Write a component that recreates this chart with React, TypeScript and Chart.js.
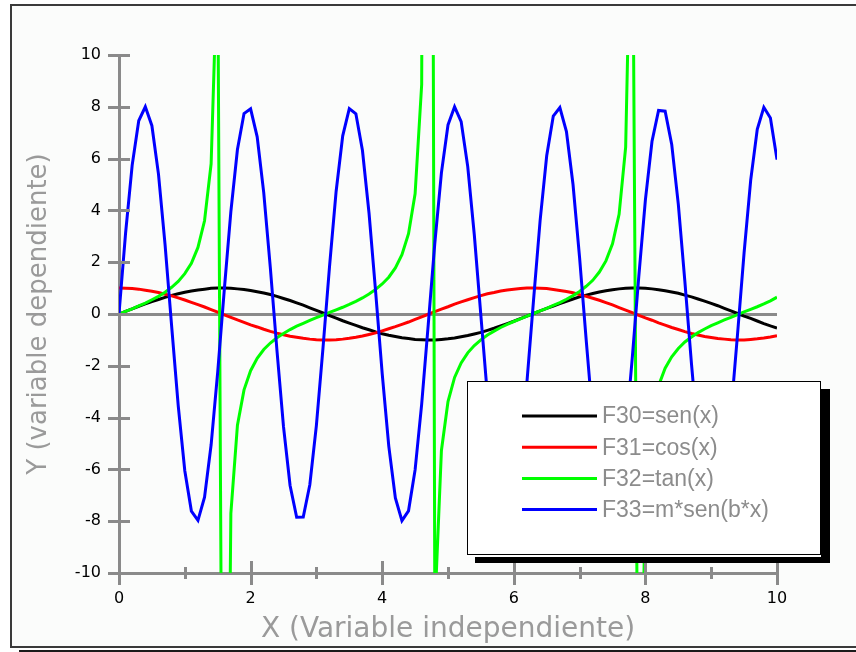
import React, { useEffect, useRef } from "react";
import { Chart, registerables } from "chart.js";

Chart.register(...registerables);

// ---------- data ----------
const xValues = [
  0, 0.1, 0.2, 0.3, 0.4, 0.5, 0.6, 0.7, 0.8, 0.9,
  1, 1.1, 1.2, 1.3, 1.4, 1.5, 1.6, 1.7, 1.8, 1.9,
  2, 2.1, 2.2, 2.3, 2.4, 2.5, 2.6, 2.7, 2.8, 2.9,
  3, 3.1, 3.2, 3.3, 3.4, 3.5, 3.6, 3.7, 3.8, 3.9,
  4, 4.1, 4.2, 4.3, 4.4, 4.5, 4.6, 4.7, 4.8, 4.9,
  5, 5.1, 5.2, 5.3, 5.4, 5.5, 5.6, 5.7, 5.8, 5.9,
  6, 6.1, 6.2, 6.3, 6.4, 6.5, 6.6, 6.7, 6.8, 6.9,
  7, 7.1, 7.2, 7.3, 7.4, 7.5, 7.6, 7.7, 7.8, 7.9,
  8, 8.1, 8.2, 8.3, 8.4, 8.5, 8.6, 8.7, 8.8, 8.9,
  9, 9.1, 9.2, 9.3, 9.4, 9.5, 9.6, 9.7, 9.8, 9.9,
  10,
];

const senValues = [
  0, 0.1, 0.2, 0.3, 0.39, 0.48, 0.56, 0.64, 0.72, 0.78,
  0.84, 0.89, 0.93, 0.96, 0.99, 1.0, 1.0, 0.99, 0.97, 0.95,
  0.91, 0.86, 0.81, 0.75, 0.68, 0.6, 0.52, 0.43, 0.34, 0.24,
  0.14, 0.04, -0.06, -0.16, -0.26, -0.35, -0.44, -0.53, -0.61, -0.69,
  -0.76, -0.82, -0.87, -0.92, -0.95, -0.98, -0.99, -1.0, -1.0, -0.98,
  -0.96, -0.93, -0.88, -0.83, -0.77, -0.71, -0.63, -0.55, -0.46, -0.37,
  -0.28, -0.18, -0.08, 0.02, 0.12, 0.22, 0.31, 0.4, 0.49, 0.58,
  0.66, 0.73, 0.79, 0.85, 0.9, 0.94, 0.97, 0.99, 1.0, 1.0,
  0.99, 0.97, 0.94, 0.9, 0.85, 0.8, 0.73, 0.66, 0.58, 0.5,
  0.41, 0.32, 0.22, 0.12, 0.02, -0.08, -0.17, -0.27, -0.37, -0.46,
  -0.54,
];

const cosValues = [
  1.0, 0.99, 0.98, 0.96, 0.92, 0.88, 0.83, 0.76, 0.7, 0.62,
  0.54, 0.45, 0.36, 0.27, 0.17, 0.07, -0.03, -0.13, -0.23, -0.32,
  -0.42, -0.5, -0.59, -0.67, -0.74, -0.8, -0.86, -0.9, -0.94, -0.97,
  -0.99, -1.0, -1.0, -0.99, -0.97, -0.94, -0.9, -0.85, -0.79, -0.73,
  -0.65, -0.57, -0.49, -0.4, -0.31, -0.21, -0.11, -0.01, 0.09, 0.19,
  0.28, 0.38, 0.47, 0.55, 0.63, 0.71, 0.78, 0.83, 0.89, 0.93,
  0.96, 0.98, 1.0, 1.0, 0.99, 0.98, 0.95, 0.91, 0.87, 0.82,
  0.75, 0.68, 0.61, 0.53, 0.44, 0.35, 0.25, 0.15, 0.05, -0.05,
  -0.15, -0.24, -0.34, -0.43, -0.52, -0.6, -0.68, -0.75, -0.81, -0.87,
  -0.91, -0.95, -0.97, -0.99, -1.0, -1.0, -0.98, -0.96, -0.93, -0.89,
  -0.84,
];

const tanValues = [
  0, 0.1, 0.2, 0.31, 0.42, 0.55, 0.68, 0.84, 1.03, 1.26,
  1.56, 1.96, 2.57, 3.6, 5.8, 14.1, -34.23, -7.7, -4.29, -2.93,
  -2.19, -1.71, -1.37, -1.12, -0.92, -0.75, -0.6, -0.47, -0.36, -0.25,
  -0.14, -0.04, 0.06, 0.16, 0.26, 0.37, 0.49, 0.62, 0.77, 0.95,
  1.16, 1.42, 1.78, 2.29, 3.1, 4.64, 8.86, 80.71, -11.38, -5.27,
  -3.38, -2.45, -1.89, -1.5, -1.22, -1.0, -0.81, -0.66, -0.52, -0.4,
  -0.29, -0.19, -0.08, 0.02, 0.12, 0.22, 0.33, 0.44, 0.57, 0.71,
  0.87, 1.07, 1.3, 1.62, 2.05, 2.71, 3.85, 6.44, 18.49, -21.72,
  -6.8, -3.98, -2.77, -2.09, -1.65, -1.33, -1.08, -0.89, -0.72, -0.58,
  -0.45, -0.34, -0.23, -0.13, -0.02, 0.08, 0.18, 0.28, 0.39, 0.51,
  0.65,
];

const mSenValues = [
  0, 3.12, 5.74, 7.46, 8.0, 7.27, 5.4, 2.68, -0.47, -3.54,
  -6.05, -7.61, -7.97, -7.07, -5.05, -2.24, 0.93, 3.95, 6.35, 7.74,
  7.92, 6.84, 4.68, 1.78, -1.39, -4.35, -6.62, -7.85, -7.84, -6.59,
  -4.3, -1.32, 1.85, 4.74, 6.88, 7.93, 7.73, 6.31, 3.89, 0.86,
  -2.3, -5.1, -7.1, -7.98, -7.6, -6.02, -3.48, -0.4, 2.75, 5.45,
  7.3, 8.0, 7.43, 5.69, 3.05, -0.07, -3.18, -5.79, -7.48, -7.99,
  -7.25, -5.35, -2.61, 0.54, 3.61, 6.11, 7.64, 7.97, 7.04, 5.0,
  2.17, -1.0, -4.02, -6.39, -7.77, -7.9, -6.8, -4.62, -1.71, 1.46,
  4.41, 6.66, 7.86, 7.83, 6.55, 4.24, 1.25, -1.92, -4.8, -6.92,
  -7.94, -7.71, -6.26, -3.83, -0.79, 2.37, 5.16, 7.13, 7.98, 7.57,
  5.96,
];

const seriesLabels = ["F30=sen(x)", "F31=cos(x)", "F32=tan(x)", "F33=m*sen(b*x)"];
const seriesColors = ["#000000", "#ff0000", "#00ff00", "#0000ff"];
const xMinorTicks = [1, 3, 5, 7, 9];
const xTitle = "X (Variable independiente)";
const yTitle = "Y (variable dependiente)";

const AXIS_GRAY = "#8a8a8a";
const TITLE_GRAY = "#9a9a9a";

const toPoints = (ys: number[]) => xValues.map((x, i) => ({ x, y: ys[i] }));

const framePlugin = {
  id: "frame",
  beforeDraw(chart: any) {
    const { ctx, width, height } = chart;
    ctx.save();
    ctx.fillStyle = "#ffffff";
    ctx.fillRect(0, 0, width, height);
    ctx.fillStyle = "#fbfcfb";
    ctx.fillRect(11, 5, width - 11, 642);
    ctx.strokeStyle = "#3a3a3a";
    ctx.lineWidth = 2;
    ctx.beginPath();
    ctx.moveTo(width + 2, 5);
    ctx.lineTo(11, 5);
    ctx.lineTo(11, 647);
    ctx.lineTo(width + 2, 647);
    ctx.stroke();
    ctx.fillStyle = "#1a1a1a";
    ctx.fillRect(19, 650, width - 19, 2);
    ctx.restore();
  },
};

const tickMarksPlugin = {
  id: "tickMarks",
  afterDatasetsDraw(chart: any) {
    const { ctx, chartArea } = chart;
    const xs = chart.scales.x;
    const ys = chart.scales.y;
    ctx.save();
    ctx.strokeStyle = AXIS_GRAY;
    ctx.lineWidth = 3;
    ctx.beginPath();
    ys.ticks.forEach((t: any) => {
      const py = Math.round(ys.getPixelForValue(t.value)) + 0.5;
      ctx.moveTo(chartArea.left - 11, py);
      ctx.lineTo(chartArea.left + 11, py);
    });
    xs.ticks.forEach((t: any) => {
      const px = Math.round(xs.getPixelForValue(t.value)) + 0.5;
      ctx.moveTo(px, chartArea.bottom - 12);
      ctx.lineTo(px, chartArea.bottom + 12);
    });
    xMinorTicks.forEach((v) => {
      const px = Math.round(xs.getPixelForValue(v)) + 0.5;
      ctx.moveTo(px, chartArea.bottom - 6);
      ctx.lineTo(px, chartArea.bottom + 6);
    });
    ctx.stroke();
    ctx.restore();
  },
};

const boxLegendPlugin = {
  id: "boxLegend",
  afterDraw(chart: any) {
    const { ctx } = chart;
    const bx = 467, by = 381, bw = 354, bh = 174;
    ctx.save();
    ctx.fillStyle = "#000000";
    ctx.fillRect(bx + 8, by + 8, bw + 1, bh);
    ctx.fillStyle = "#ffffff";
    ctx.fillRect(bx, by, bw, bh + 2);
    ctx.strokeStyle = "#000000";
    ctx.lineWidth = 1;
    ctx.strokeRect(bx + 0.5, by + 0.5, bw - 1, bh - 1);
    ctx.font = "23px 'Liberation Sans', Arial, sans-serif";
    ctx.textBaseline = "middle";
    ctx.textAlign = "left";
    chart.data.datasets.forEach((ds: any, i: number) => {
      const y = 416 + i * 31.2;
      ctx.strokeStyle = ds.borderColor;
      ctx.lineWidth = 3;
      ctx.beginPath();
      ctx.moveTo(522, y);
      ctx.lineTo(597, y);
      ctx.stroke();
      ctx.fillStyle = "#8c8c8c";
      ctx.fillText(ds.label, 602, y + 1);
    });
    ctx.restore();
  },
};

export default function App() {
  const canvasRef = useRef<HTMLCanvasElement | null>(null);

  useEffect(() => {
    if (!canvasRef.current) return;
    const series = [senValues, cosValues, tanValues, mSenValues];
    const chart = new Chart(canvasRef.current, {
      type: "line",
      data: {
        datasets: series.map((vals, i) => ({
          label: seriesLabels[i],
          data: toPoints(vals),
          borderColor: seriesColors[i],
          backgroundColor: seriesColors[i],
          borderWidth: 3,
          pointRadius: 0,
          tension: 0,
          fill: false,
          clip: 0,
          order: 4 - i,
        })),
      },
      options: {
        responsive: false,
        animation: false,
        devicePixelRatio: 1,
        events: [],
        layout: { padding: { left: 14, top: 55, right: 79, bottom: 0 } },
        plugins: {
          legend: { display: false },
          tooltip: { enabled: false },
        },
        scales: {
          x: {
            type: "linear",
            min: 0,
            max: 10,
            afterFit: (scale: any) => {
              scale.height = 79;
            },
            ticks: {
              stepSize: 2,
              color: "#000000",
              padding: 16,
              maxRotation: 0,
              font: { family: "'DejaVu Sans', sans-serif", size: 16 },
            },
            grid: { display: false, drawTicks: false },
            border: { display: true, color: AXIS_GRAY, width: 3 },
            title: {
              display: true,
              text: xTitle,
              color: TITLE_GRAY,
              font: { family: "'DejaVu Sans', sans-serif", size: 28 },
              padding: { top: 0, bottom: 5 },
            },
          },
          y: {
            type: "linear",
            min: -10,
            max: 10,
            afterFit: (scale: any) => {
              scale.width = 105;
            },
            ticks: {
              stepSize: 2,
              color: "#000000",
              padding: 18,
              font: { family: "'DejaVu Sans', sans-serif", size: 16 },
            },
            grid: {
              display: true,
              drawTicks: false,
              drawOnChartArea: true,
              lineWidth: 3,
              color: (c: any) => (c.tick && c.tick.value === 0 ? AXIS_GRAY : "rgba(0,0,0,0)"),
            },
            border: { display: true, color: AXIS_GRAY, width: 3 },
            title: {
              display: true,
              text: yTitle,
              color: TITLE_GRAY,
              font: { family: "'DejaVu Sans', sans-serif", size: 26 },
              padding: { top: 10, bottom: 0 },
            },
          },
        },
      },
      plugins: [framePlugin, tickMarksPlugin, boxLegendPlugin],
    } as any);
    return () => chart.destroy();
  }, []);

  return (
    <div style={{ position: "absolute", left: 0, top: 0, width: 856, height: 652 }}>
      <canvas ref={canvasRef} width={856} height={652} style={{ width: 856, height: 652, display: "block" }} />
    </div>
  );
}
